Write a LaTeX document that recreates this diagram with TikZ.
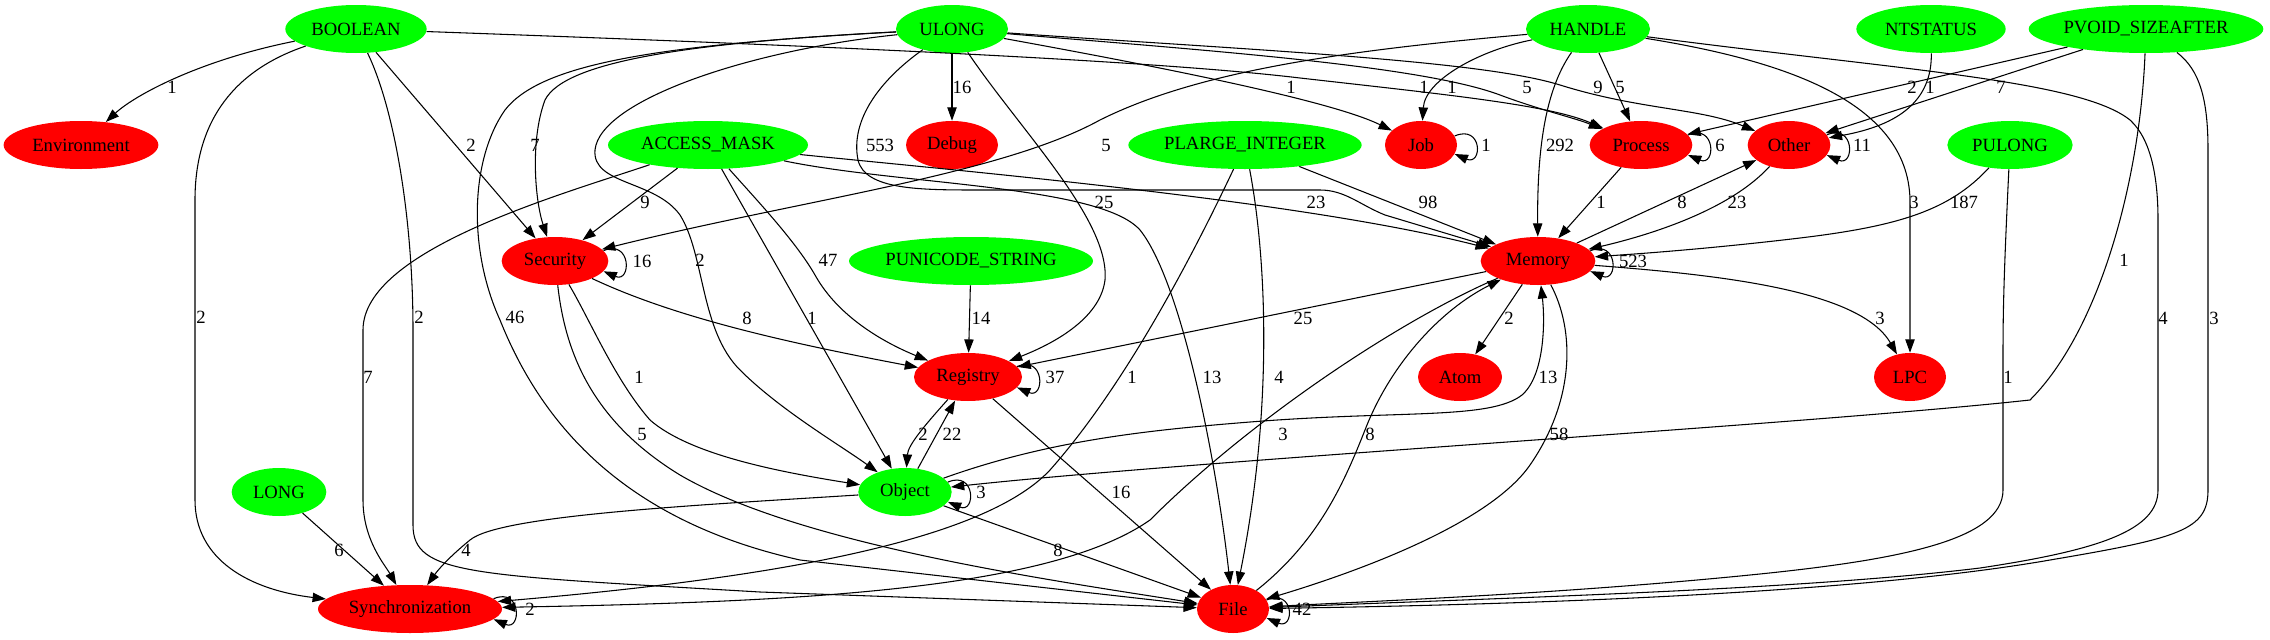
\documentclass[tikz,border=0pt]{standalone}
\usepackage{fontspec}
\setmainfont{Liberation Serif}
\usetikzlibrary{shapes.geometric,arrows.meta}
\tikzset{
  typeNode/.style={
    ellipse,
    fill=green,
    inner sep=0pt,
    minimum height=36pt,
    font=\fontsize{14pt}{16pt}\selectfont
  },
  areaNode/.style={
    ellipse,
    fill=red,
    inner sep=0pt,
    minimum height=36pt,
    font=\fontsize{14pt}{16pt}\selectfont
  },
  depLine/.style={
    -{Triangle[length=10pt,width=7pt]},
    line width=0.8pt
  },
  countLabel/.style={
    inner sep=0pt,
    font=\fontsize{14pt}{16pt}\selectfont
  }
}

\begin{document}
\begin{tikzpicture}[x=0.75pt,y=-0.75pt]
        \useasboundingbox (0,0) rectangle (2270,639);

        \node[typeNode, minimum width=106pt] (boolean) at (356,29) {BOOLEAN};
        \node[typeNode, minimum width=84pt] (ulong) at (952,29) {ULONG};
        \node[typeNode, minimum width=93pt] (handle) at (1588,29) {HANDLE};
        \node[typeNode, minimum width=112pt] (ntstatus) at (1931,29) {NTSTATUS};
        \node[typeNode, minimum width=176pt] (pvoidSize) at (2146,29) {PVOID\_SIZEAFTER};
        \node[areaNode, minimum width=116pt] (environment) at (81,145) {Environment};
        \node[typeNode, minimum width=150pt] (accessMask) at (708,145) {ACCESS\_MASK};
        \node[areaNode, minimum width=69pt] (debug) at (952,145) {Debug};
        \node[typeNode, minimum width=175pt] (plargeInt) at (1245,145) {PLARGE\_INTEGER};
        \node[areaNode, minimum width=54pt] (job) at (1421,145) {Job};
        \node[areaNode, minimum width=77pt] (process) at (1641,145) {Process};
        \node[areaNode, minimum width=62pt] (other) at (1789,145) {Other};
        \node[typeNode, minimum width=94pt] (pulong) at (2010,145) {PULONG};
        \node[areaNode, minimum width=80pt] (security) at (555,261) {Security};
        \node[typeNode, minimum width=183pt] (punicode) at (971,261) {PUNICODE\_STRING};
        \node[areaNode, minimum width=86pt] (memory) at (1538,261) {Memory};
        \node[areaNode, minimum width=81pt] (registry) at (968,377) {Registry};
        \node[areaNode, minimum width=63pt] (atom) at (1460,377) {Atom};
        \node[areaNode, minimum width=54pt] (lpc) at (1910,377) {LPC};
        \node[typeNode, minimum width=71pt] (longType) at (279,492) {LONG};
        \node[typeNode, minimum width=70pt] (object) at (905,492) {Object};
        \node[areaNode, minimum width=138pt] (synchro) at (410,609) {Synchronization};
        \node[areaNode, minimum width=54pt] (file) at (1233,609) {File};

        \draw[depLine] (boolean) .. controls (200,60) and (135,95) .. (environment);
        \draw[depLine] (boolean) .. controls (235,70) and (195,120) .. (195,200) -- (195,500) .. controls (195,560) and (250,590) .. (synchro);
        \draw[depLine] (boolean) .. controls (395,110) and (413,220) .. (413,330) -- (413,525) .. controls (413,575) and (470,575) .. (760,592) -- (file);
        \draw[depLine] (boolean) -- (security);
        \draw[depLine] (boolean) .. controls (800,45) and (1150,60) .. (1300,78) .. controls (1450,95) and (1550,105) .. (process);

        \draw[depLine] (ulong) -- (debug);
        \draw[depLine] (ulong) .. controls (1150,65) and (1330,100) .. (job);
        \draw[depLine] (ulong) .. controls (1200,50) and (1420,65) .. (1500,95) .. controls (1540,110) and (1575,118) .. (process);
        \draw[depLine] (ulong) .. controls (1250,50) and (1480,60) .. (1560,85) .. controls (1640,110) and (1700,108) .. (other);
        \draw[depLine] (ulong) .. controls (700,42) and (565,60) .. (545,100) .. controls (530,140) and (535,200) .. (security);
        \draw[depLine] (ulong) .. controls (650,45) and (540,65) .. (505,110) .. controls (470,160) and (468,250) .. (500,320) .. controls (540,420) and (620,520) .. (800,560) -- (file);
        \draw[depLine] (ulong) .. controls (750,50) and (600,100) .. (595,150) .. controls (592,185) and (655,180) .. (680,215) .. controls (705,255) and (700,330) .. (740,370) .. controls (780,410) and (840,445) .. (object);
        \draw[depLine] (ulong) .. controls (880,80) and (850,120) .. (858,160) .. controls (865,190) and (920,190) .. (980,190) -- (1320,190) .. controls (1345,190) and (1360,205) .. (1385,215) -- (memory);
        \draw[depLine] (ulong) .. controls (1020,130) and (1110,220) .. (1105,280) .. controls (1100,320) and (1050,345) .. (registry);

        \draw[depLine] (accessMask) -- (security);
        \draw[depLine] (accessMask) .. controls (560,195) and (363,250) .. (363,330) -- (363,500) .. controls (363,540) and (385,565) .. (synchro);
        \draw[depLine] (accessMask) -- (object);
        \draw[depLine] (accessMask) .. controls (752,195) and (795,240) .. (815,275) .. controls (840,320) and (890,345) .. (registry);
        \draw[depLine] (accessMask) .. controls (950,170) and (1300,200) .. (memory);
        \draw[depLine] (accessMask) .. controls (900,185) and (1100,185) .. (1140,230) .. controls (1180,280) and (1215,450) .. (file);

        \draw[depLine] (punicode) -- (registry);

        \draw[depLine] (plargeInt) .. controls (1200,240) and (1130,380) .. (1050,470) .. controls (980,545) and (750,580) .. (synchro);
        \draw[depLine] (plargeInt) .. controls (1265,250) and (1275,400) .. (file);
        \draw[depLine] (plargeInt) -- (memory);

        \draw[depLine] (handle) .. controls (1350,50) and (1200,70) .. (1100,120) .. controls (1000,175) and (800,200) .. (security);
        \draw[depLine] (handle) .. controls (1480,50) and (1425,80) .. (job);
        \draw[depLine] (handle) .. controls (1545,90) and (1537,150) .. (memory);
        \draw[depLine] (handle) -- (process);
        \draw[depLine] (handle) .. controls (1780,60) and (1908,100) .. (1910,200) -- (lpc);
        \draw[depLine] (handle) .. controls (1900,70) and (2080,80) .. (2130,120) .. controls (2152,140) and (2158,180) .. (2158,220) -- (2158,490) .. controls (2158,530) and (2100,550) .. (1980,568) .. controls (1800,590) and (1500,598) .. (file);

        \draw[depLine] (ntstatus) .. controls (1932,100) and (1900,125) .. (other);

        \draw[depLine] (pvoidSize) -- (process);
        \draw[depLine] (pvoidSize) -- (other);
        \draw[depLine] (pvoidSize) .. controls (2140,180) and (2100,330) .. (2030,400) .. controls (1800,425) and (1200,460) .. (object);
        \draw[depLine] (pvoidSize) .. controls (2200,70) and (2208,100) .. (2208,150) -- (2208,490) .. controls (2208,530) and (2180,538) .. (2050,560) .. controls (1850,595) and (1500,605) .. (file);

        \draw[depLine] (pulong) .. controls (1950,210) and (1900,226) .. (1800,238) .. controls (1700,250) and (1620,255) .. (memory);
        \draw[depLine] (pulong) .. controls (2005,250) and (2003,300) .. (2003,350) -- (2003,490) .. controls (2003,540) and (1900,560) .. (1750,575) .. controls (1550,595) and (1350,602) .. (file);

        \draw[depLine] (process) -- (memory);
        \draw[depLine] (memory) -- (other);
        \draw[depLine] (other) .. controls (1730,210) and (1650,235) .. (memory);
        \draw[depLine] (memory) -- (atom);
        \draw[depLine] (memory) .. controls (1720,275) and (1860,290) .. (lpc);
        \draw[depLine] (memory) -- (registry);
        \draw[depLine] (memory) .. controls (1575,330) and (1575,400) .. (1530,465) .. controls (1485,530) and (1330,580) .. (file);
        \draw[depLine] (memory) .. controls (1400,320) and (1250,420) .. (1150,520) .. controls (1050,590) and (800,602) .. (synchro);

        \draw[depLine] (security) .. controls (680,320) and (800,345) .. (registry);
        \draw[depLine] (security) .. controls (590,320) and (615,380) .. (650,420) .. controls (690,455) and (780,472) .. (object);
        \draw[depLine] (security) .. controls (565,350) and (590,420) .. (680,475) .. controls (800,545) and (1050,580) .. (file);

        \draw[depLine] (registry) .. controls (925,425) and (908,445) .. (object);
        \draw[depLine] (object) -- (registry);
        \draw[depLine] (registry) -- (file);
        \draw[depLine] (object) .. controls (1050,440) and (1150,430) .. (1250,422) .. controls (1400,410) and (1490,420) .. (1522,395) .. controls (1545,375) and (1545,320) .. (memory);
        \draw[depLine] (object) .. controls (700,505) and (500,515) .. (470,540) .. controls (448,558) and (438,570) .. (synchro);
        \draw[depLine] (object) -- (file);
        \draw[depLine] (file) .. controls (1320,540) and (1345,480) .. (1365,430) .. controls (1390,365) and (1440,310) .. (memory);
        \draw[depLine] (longType) -- (synchro);

        \draw[depLine] (job.15) .. controls +(28,-12) and +(28,12) .. (job.-15);
        \draw[depLine] (process.12) .. controls +(28,-12) and +(28,12) .. (process.-12);
        \draw[depLine] (other.15) .. controls +(28,-12) and +(28,12) .. (other.-15);
        \draw[depLine] (security.12) .. controls +(28,-12) and +(28,12) .. (security.-12);
        \draw[depLine] (memory.11) .. controls +(28,-12) and +(28,12) .. (memory.-11);
        \draw[depLine] (registry.12) .. controls +(28,-12) and +(28,12) .. (registry.-12);
        \draw[depLine] (object.13) .. controls +(28,-12) and +(28,12) .. (object.-13);
        \draw[depLine] (synchro.7) .. controls +(28,-12) and +(28,12) .. (synchro.-7);
        \draw[depLine] (file.15) .. controls +(28,-12) and +(28,12) .. (file.-15);

        \node[countLabel] (lBoolEnv) at (172,87) {1};
        \node[countLabel] (lBoolSync) at (201,317) {2};
        \node[countLabel] (lBoolFile) at (419,317) {2};
        \node[countLabel] (lBoolSec) at (471,145) {2};
        \node[countLabel] (lBoolProc) at (1424,87) {1};
        \node[countLabel] (lUlongDbg) at (962,87) {16};
        \node[countLabel] (lUlongJob) at (1291,87) {1};
        \node[countLabel] (lUlongProc) at (1527,87) {5};
        \node[countLabel] (lUlongOther) at (1598,87) {9};
        \node[countLabel] (lUlongSec) at (535,145) {7};
        \node[countLabel] (lUlongFile) at (515,317) {46};
        \node[countLabel] (lUlongObj) at (700,260) {2};
        \node[countLabel] (lUlongMem) at (880,145) {553};
        \node[countLabel] (lUlongReg) at (1104,202) {25};
        \node[countLabel] (lMaskSec) at (645,202) {9};
        \node[countLabel] (lMaskSync) at (368,377) {7};
        \node[countLabel] (lMaskObj) at (812,318) {1};
        \node[countLabel] (lMaskReg) at (828,260) {47};
        \node[countLabel] (lMaskMem) at (1316,202) {23};
        \node[countLabel] (lMaskFile) at (1212,377) {13};
        \node[countLabel] (lUniReg) at (981,318) {14};
        \node[countLabel] (lLargeSync) at (1132,377) {1};
        \node[countLabel] (lLargeFile) at (1279,377) {4};
        \node[countLabel] (lLargeMem) at (1428,202) {98};
        \node[countLabel] (lHandleSec) at (1106,145) {5};
        \node[countLabel] (lHandleJob) at (1452,87) {1};
        \node[countLabel] (lHandleMem) at (1560,145) {292};
        \node[countLabel] (lHandleProc) at (1620,87) {5};
        \node[countLabel] (lHandleLpc) at (1914,202) {3};
        \node[countLabel] (lHandleFile) at (2163,318) {4};
        \node[countLabel] (lStatusOther) at (1930,87) {1};
        \node[countLabel] (lSizeProc) at (1912,87) {2};
        \node[countLabel] (lSizeOther) at (2001,87) {7};
        \node[countLabel] (lSizeObj) at (2124,260) {1};
        \node[countLabel] (lSizeFile) at (2214,318) {3};
        \node[countLabel] (lPulongMem) at (1964,202) {187};
        \node[countLabel] (lPulongFile) at (2008,377) {1};
        \node[countLabel] (lProcMem) at (1601,202) {1};
        \node[countLabel] (lMemOther) at (1682,202) {8};
        \node[countLabel] (lOtherMem) at (1737,202) {23};
        \node[countLabel] (lMemAtom) at (1509,318) {2};
        \node[countLabel] (lMemLpc) at (1880,318) {3};
        \node[countLabel] (lMemReg) at (1303,318) {25};
        \node[countLabel] (lMemFile) at (1559,434) {58};
        \node[countLabel] (lMemSync) at (1283,434) {3};
        \node[countLabel] (lSecReg) at (747,318) {8};
        \node[countLabel] (lSecObj) at (639,377) {1};
        \node[countLabel] (lSecFile) at (642,434) {5};
        \node[countLabel] (lRegObj) at (923,434) {2};
        \node[countLabel] (lObjReg) at (952,434) {22};
        \node[countLabel] (lRegFile) at (1121,492) {16};
        \node[countLabel] (lObjMem) at (1548,377) {13};
        \node[countLabel] (lObjSync) at (466,550) {4};
        \node[countLabel] (lObjFile) at (1058,550) {8};
        \node[countLabel] (lFileMem) at (1370,434) {8};
        \node[countLabel] (lLongSync) at (339,550) {6};
        \node[countLabel] (lJobLoop) at (1486,145) {1};
        \node[countLabel] (lProcLoop) at (1720,145) {6};
        \node[countLabel] (lOtherLoop) at (1862,145) {11};
        \node[countLabel] (lSecLoop) at (642,261) {16};
        \node[countLabel] (lMemLoop) at (1633,261) {523};
        \node[countLabel] (lRegLoop) at (1055,377) {37};
        \node[countLabel] (lObjLoop) at (981,492) {3};
        \node[countLabel] (lSyncLoop) at (530,609) {2};
        \node[countLabel] (lFileLoop) at (1302,609) {42};
    \end{tikzpicture}
\end{document}
